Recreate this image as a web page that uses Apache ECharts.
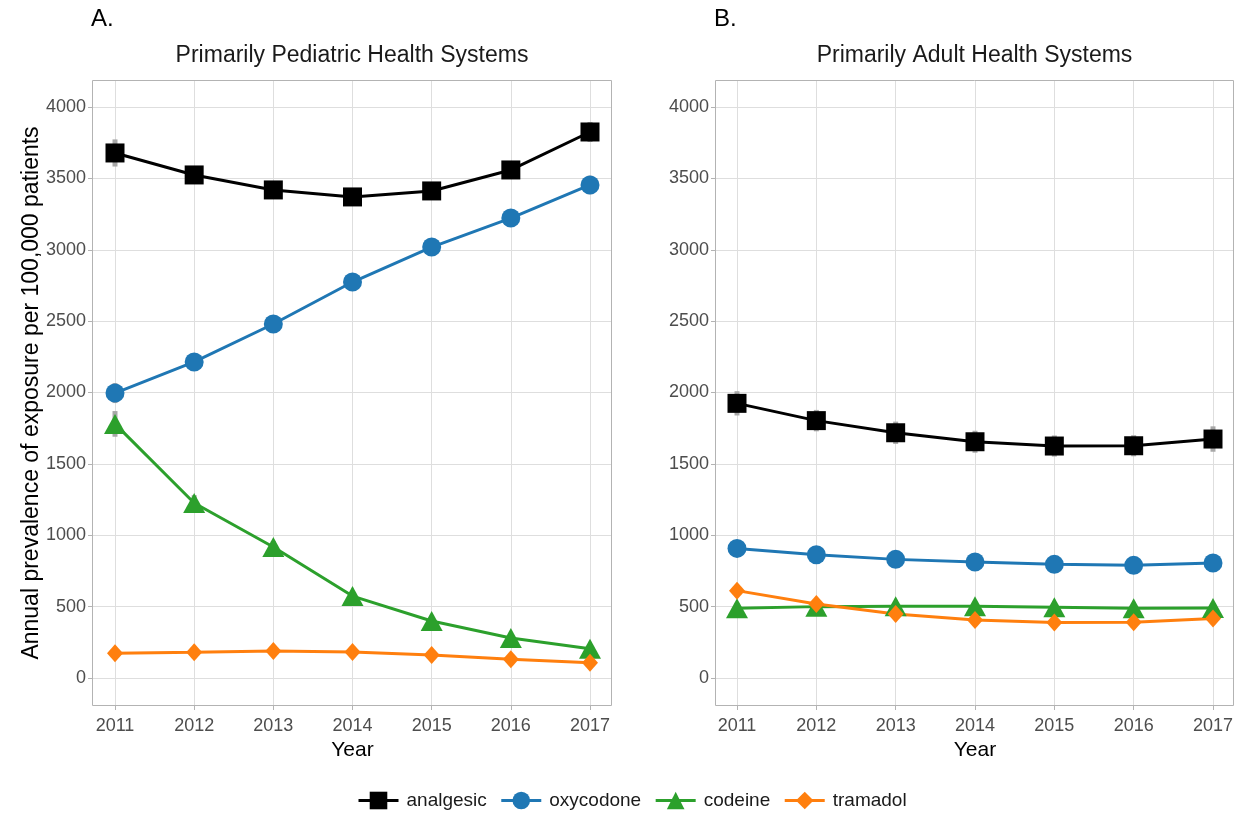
<!DOCTYPE html>
<html>
<head>
<meta charset="utf-8">
<script src="https://cdn.jsdelivr.net/npm/echarts@6/dist/echarts.min.js"></script>
<style>
  html, body { margin: 0; padding: 0; background: #ffffff; }
  #chart { width: 1244px; height: 814px; }
</style>
</head>
<body>
<div id="chart"></div>
<script>
// ---- data: annual prevalence of exposure per 100,000 patients ----
const years = [2011, 2012, 2013, 2014, 2015, 2016, 2017];
const yTickValues = [0, 500, 1000, 1500, 2000, 2500, 3000, 3500, 4000];
const drugNames = ['analgesic', 'oxycodone', 'codeine', 'tramadol'];

// Primarily pediatric health systems
const pedAnalgesic = [3678, 3524, 3419, 3370, 3412, 3559, 3825];
const pedOxycodone = [1996, 2214, 2480, 2774, 3019, 3222, 3454];
const pedCodeine   = [1780, 1226, 918, 574, 399, 280, 205];
const pedTramadol  = [173, 180, 189, 182, 161, 131, 107];
// half-width of the confidence interval for each point
const pedAnalgesicErr = [95, 50, 45, 45, 45, 50, 70];
const pedOxycodoneErr = [70, 45, 40, 40, 40, 45, 65];
const pedCodeineErr   = [90, 55, 40, 30, 25, 20, 20];
const pedTramadolErr  = [15, 15, 15, 15, 15, 12, 12];

// Primarily adult health systems
const adultAnalgesic = [1924, 1803, 1718, 1655, 1625, 1627, 1674];
const adultOxycodone = [908, 864, 831, 813, 796, 789, 806];
const adultCodeine   = [488, 500, 502, 502, 495, 488, 490];
const adultTramadol  = [612, 518, 448, 406, 388, 390, 416];
const adultAnalgesicErr = [85, 75, 78, 77, 74, 74, 89];
const adultOxycodoneErr = [40, 35, 35, 35, 35, 35, 40];
const adultCodeineErr   = [35, 30, 30, 30, 30, 30, 35];
const adultTramadolErr  = [40, 30, 30, 30, 30, 30, 35];

// ---- styling ----
const FONT = "'Liberation Sans', Arial, sans-serif";
const drugStyle = {
  analgesic: { color: '#000000', symbol: 'rect',     size: 19 },
  oxycodone: { color: '#1f77b4', symbol: 'circle',   size: 19 },
  codeine:   { color: '#2ca02c', symbol: 'triangle', size: [22, 20] },
  tramadol:  { color: '#ff7f0e', symbol: 'diamond',  size: [16, 18] }
};

// ---- layout (pixels) ----
const panelTop = 80, panelBottom = 706;
const zeroPx = 678, topTickPx = 107;           // where 0 and 4000 sit
const panels = [
  { key: 'A.', title: 'Primarily Pediatric Health Systems', left: 92, right: 612, x0: 115, x1: 590,
    series: [pedAnalgesic, pedOxycodone, pedCodeine, pedTramadol],
    errs: [pedAnalgesicErr, pedOxycodoneErr, pedCodeineErr, pedTramadolErr] },
  { key: 'B.', title: 'Primarily Adult Health Systems', left: 715, right: 1234, x0: 737, x1: 1213,
    series: [adultAnalgesic, adultOxycodone, adultCodeine, adultTramadol],
    errs: [adultAnalgesicErr, adultOxycodoneErr, adultCodeineErr, adultTramadolErr] }
];
const tickMax = yTickValues[yTickValues.length - 1];
const pxPerUnit = (zeroPx - topTickPx) / tickMax;
const dataMin = -(panelBottom - zeroPx) / pxPerUnit;
const dataMax = tickMax + (topTickPx - panelTop) / pxPerUnit;

const grids = [], xAxes = [], yAxes = [], series = [], graphics = [];

panels.forEach((p, i) => {
  const gTicks = i * 2, gData = i * 2 + 1;
  // grid carrying the horizontal gridlines and y labels (spans full panel width)
  grids.push({ left: p.left, top: topTickPx, width: p.right - p.left, height: zeroPx - topTickPx, outerBoundsMode: 'none' });
  // grid carrying the data and vertical gridlines (year positions)
  grids.push({ left: p.x0, top: panelTop, width: p.x1 - p.x0, height: panelBottom - panelTop, outerBoundsMode: 'none' });

  xAxes.push({ gridIndex: gTicks, type: 'value', min: years[0], max: years[years.length - 1], show: false });
  yAxes.push({
    gridIndex: gTicks, type: 'value', min: 0, max: tickMax, interval: 500,
    axisLine: { show: false },
    axisTick: { show: true, length: 4, lineStyle: { color: '#b3b3b3' } },
    axisLabel: { color: '#4d4d4d', fontSize: 18, fontFamily: FONT, margin: 6, formatter: v => String(v) },
    splitLine: { show: true, lineStyle: { color: '#dedede', width: 1 } }
  });

  xAxes.push({
    gridIndex: gData, type: 'value', min: years[0], max: years[years.length - 1], interval: 1,
    position: 'bottom',
    axisLine: { show: false, onZero: false },
    axisTick: { show: true, length: 4, lineStyle: { color: '#b3b3b3' } },
    axisLabel: { color: '#4d4d4d', fontSize: 18, fontFamily: FONT, margin: 11, formatter: v => String(v) },
    splitLine: { show: true, lineStyle: { color: '#dedede', width: 1 } },
    name: 'Year', nameLocation: 'middle', nameGap: 34,
    nameTextStyle: { color: '#000000', fontSize: 21, fontFamily: FONT }
  });
  yAxes.push({ gridIndex: gData, type: 'value', min: dataMin, max: dataMax, show: false, splitLine: { show: false } });

  const xIdx = i * 2 + 1, yIdx = i * 2 + 1;

  // confidence interval bars
  drugNames.forEach((name, k) => {
    const bars = years.map((yr, j) => [yr, p.series[k][j] - p.errs[k][j], p.series[k][j] + p.errs[k][j]]);
    series.push({
      type: 'custom', name: name + ' CI', xAxisIndex: xIdx, yAxisIndex: yIdx, z: 1, silent: true,
      data: bars,
      renderItem: (params, api) => {
        const a = api.coord([api.value(0), api.value(1)]);
        const b = api.coord([api.value(0), api.value(2)]);
        return { type: 'line', shape: { x1: a[0], y1: a[1], x2: b[0], y2: b[1] },
                 style: { stroke: '#a8a8a8', lineWidth: 5 } };
      }
    });
  });

  // lines with markers
  drugNames.forEach((name, k) => {
    const st = drugStyle[name];
    series.push({
      type: 'line', name: name, xAxisIndex: xIdx, yAxisIndex: yIdx, z: 3,
      data: years.map((yr, j) => [yr, p.series[k][j]]),
      symbol: st.symbol, symbolSize: st.size, showAllSymbol: true, clip: false,
      itemStyle: { color: st.color, opacity: 1 },
      lineStyle: { color: st.color, width: 3 },
      emphasis: { disabled: true }, animation: false
    });
  });

  // panel frame
  graphics.push({
    type: 'rect', z: 10, silent: true,
    shape: { x: p.left + 0.5, y: panelTop + 0.5, width: p.right - p.left - 1, height: panelBottom - panelTop - 1 },
    style: { fill: null, stroke: '#b3b3b3', lineWidth: 1 }
  });
  // panel tag and title
  graphics.push({
    type: 'text', x: p.left - 1, y: 19, silent: true,
    style: { text: p.key, fill: '#000000', font: '24px ' + FONT, textAlign: 'left', textVerticalAlign: 'middle' }
  });
  graphics.push({
    type: 'text', x: (p.left + p.right) / 2, y: 56, silent: true,
    style: { text: p.title, fill: '#1a1a1a', font: '23px ' + FONT, textAlign: 'center', textVerticalAlign: 'middle' }
  });
});

// shared y-axis title, centred on the panels' vertical extent
graphics.push({
  type: 'text', x: 32, y: (panelTop + panelBottom) / 2, rotation: Math.PI / 2, silent: true,
  style: { text: 'Annual prevalence of exposure per 100,000 patients', fill: '#000000',
           font: '23px ' + FONT, textAlign: 'center', textVerticalAlign: 'middle' }
});

const chart = echarts.init(document.getElementById('chart'), null, { renderer: 'canvas' });
chart.setOption({
  backgroundColor: '#ffffff',
  animation: false,
  grid: grids,
  xAxis: xAxes,
  yAxis: yAxes,
  legend: {
    data: drugNames,
    bottom: -1, left: 352,
    itemWidth: 40, itemHeight: 22, itemGap: 13,
    lineStyle: { width: 3 },
    textStyle: { color: '#1a1a1a', fontSize: 19, fontFamily: FONT, padding: [0, 0, 0, 3] },
    selectedMode: false
  },
  graphic: graphics,
  series: series
});
</script>
</body>
</html>
